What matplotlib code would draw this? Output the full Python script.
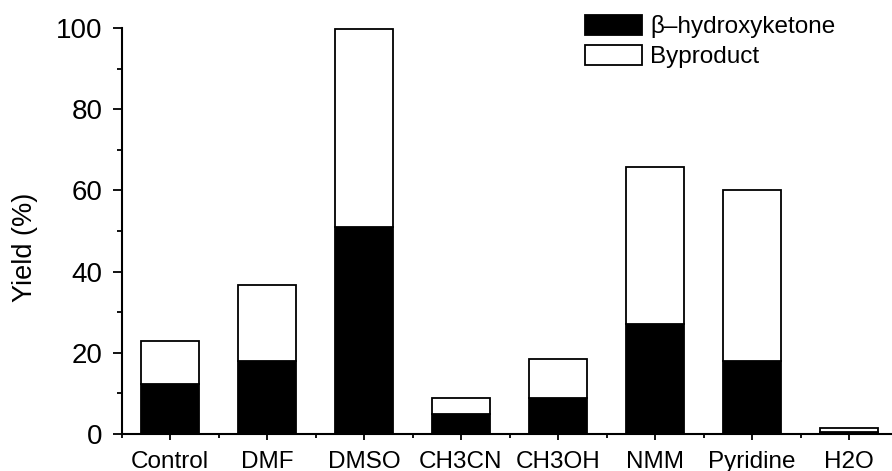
import matplotlib
matplotlib.use("Agg")
import matplotlib.pyplot as plt
import numpy as np
from matplotlib.ticker import MultipleLocator, FixedLocator

plt.rcParams['font.family'] = ['Liberation Sans', 'DejaVu Sans']

# yields
solvents = ["Control", "DMF", "DMSO", "CH3CN", "CH3OH", "NMM", "Pyridine", "H2O"]
hydroxyketone = [12.3, 17.9, 51.1, 5.0, 8.8, 27.0, 18.0, 0.6]
byproduct = [10.5, 18.8, 48.6, 3.9, 9.6, 38.7, 42.2, 0.9]

fig = plt.figure(figsize=(8.92, 4.71), dpi=100)
ax = fig.add_axes([121.5 / 892, 37 / 471, 776 / 892, 406 / 471])

x = np.arange(len(solvents))
ax.bar(x, hydroxyketone, width=0.6, color="black", edgecolor="black",
       linewidth=1.3, label="\u03b2\u2013hydroxyketone")
ax.bar(x, byproduct, width=0.6, bottom=hydroxyketone, color="white",
       edgecolor="black", linewidth=1.3, label="Byproduct")

ax.set_xlim(-0.5, len(solvents) - 0.5)
ax.set_ylim(0, 100)

# spines: only left and bottom
ax.spines["top"].set_visible(False)
ax.spines["right"].set_visible(False)
ax.spines["left"].set_linewidth(1.5)
ax.spines["bottom"].set_linewidth(1.5)

ax.set_xticks(x)
ax.set_xticklabels(solvents, fontsize=17.5)
ax.xaxis.set_minor_locator(FixedLocator(np.arange(-0.5, len(solvents), 1.0)))
ax.yaxis.set_major_locator(MultipleLocator(20))
ax.yaxis.set_minor_locator(MultipleLocator(10))
ax.tick_params(axis="y", which="major", labelsize=20, length=6.5, width=1.3, direction="out", pad=7)
ax.tick_params(axis="y", which="minor", length=3.5, width=1.3, direction="out")
ax.tick_params(axis="x", which="major", length=4.5, width=1.3, direction="out", pad=7.5)
ax.tick_params(axis="x", which="minor", length=3, width=1.3, direction="out")

ax.set_ylabel("Yield (%)", fontsize=19.5)
ax.yaxis.set_label_coords(-0.108, 0.459)

ax.legend(loc="upper left", bbox_to_anchor=(585 / 892, 1 - 15 / 471),
          bbox_transform=fig.transFigure, frameon=False, fontsize=17.5,
          handlelength=2.35, handleheight=0.88, handletextpad=0.33,
          labelspacing=0.28, borderpad=0, borderaxespad=0)

fig.savefig("out.png", dpi=100)
